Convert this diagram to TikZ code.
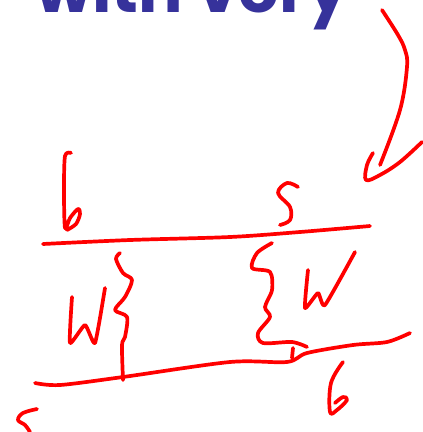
\documentclass[tikz,border=0pt]{standalone}
\usepackage{fontspec}
\newfontfamily\ttl{Poppins}
\definecolor{ink}{RGB}{255,0,0}
\definecolor{navy}{RGB}{54,50,155}
\tikzset{pen/.style={draw=ink,line width=3.7pt,line cap=round,line join=round}}
\begin{document}
\begin{tikzpicture}[x=1pt,y=-1pt]
\useasboundingbox (0,0) rectangle (423,432);
\clip (0,0) rectangle (423,432);
\node[anchor=base west,inner sep=0pt,text=navy,font=\ttl\bfseries\fontsize{66}{70}\selectfont] (title) at (35,12) {with very};
% arrow
\draw[pen] plot[smooth,tension=0.6] coordinates {(382,10) (398,35) (405,50) (407,67) (400,110) (380,165)};
\draw[pen] plot[smooth,tension=0.6] coordinates {(373,153) (367,165) (366,180) (380,175) (400,162) (422,142)};
% top line
\draw[pen] plot[smooth,tension=0.5] coordinates {(43,244) (130,240) (230,237) (300,232) (370,226)};
% b
\draw[pen] plot[smooth,tension=0.5] coordinates {(71,153) (65,156) (64,190) (65,228) (70,218) (78,209) (80,214) (76,224) (67,230)};
% s top
\draw[pen] plot[smooth,tension=0.6] coordinates {(298,187) (287,183) (278,193) (290,207) (290,220) (280,225)};
% left wavy
\draw[pen] plot[smooth,tension=0.5] coordinates {(120,253) (116,259) (123,273) (132,280) (125,297) (115,310) (127,317) (125,337) (122,345) (123,380)};
% left W
\draw[pen] plot[smooth,tension=0.3] coordinates {(72,297) (70,343) (85,325) (95,343) (105,288)};
% lower line
\draw[pen] plot[smooth,tension=0.5] coordinates {(35,383) (60,385) (123,377) (230,362) (287,362) (307,353) (353,345) (387,342) (410,333)};
% right wavy
\draw[pen] plot[smooth,tension=0.5] coordinates {(272,243) (257,253) (252,268) (270,272) (272,290) (265,307) (270,317) (258,333) (263,343) (292,342) (307,347)};
\draw[pen] (293,348) -- (292,358);
% right W
\draw[pen] plot[smooth,tension=0.3] coordinates {(308,270) (305,308) (318,293) (325,305) (355,252)};
% 6
\draw[pen] plot[smooth,tension=0.6] coordinates {(343,362) (331,383) (330,412) (337,410) (347,400) (343,397) (335,403)};
% s bottom
\draw[pen] plot[smooth,tension=0.6] coordinates {(37,409) (23,413) (18,420) (25,425) (30,432)};
\end{tikzpicture}
\end{document}
